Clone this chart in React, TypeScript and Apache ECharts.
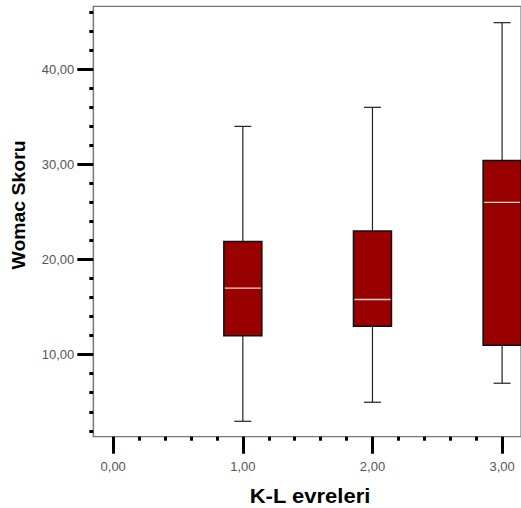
import React, { useEffect, useRef } from 'react';
import * as echarts from 'echarts';

// K-L stages and box statistics (Womac score)
const categories = [1, 2, 3];
const whiskerLow = [3, 5, 7];
const quartile1 = [12, 13, 11];
const medians = [17, 15.8, 26];
const quartile3 = [21.9, 23, 30.4];
const whiskerHigh = [34, 36, 44.9];

// Axis ticks
const xMajorTicks = [0, 1, 2, 3];
const xMinorTicks = [0.2, 0.4, 0.6, 0.8, 1.2, 1.4, 1.6, 1.8, 2.2, 2.4, 2.6, 2.8];
const yMajorTicks = [10, 20, 30, 40];
const yMinorTicks = [2, 4, 6, 8, 12, 14, 16, 18, 22, 24, 26, 28, 32, 34, 36, 38, 42, 44, 46];

const X_MIN = -0.1535;
const X_MAX = 3.1458;
const Y_MIN = 1.38;
const Y_MAX = 46.62;

const BOX_W = 38;
const CAP_W = 17;

const fmt = (v: number) => v.toFixed(2).replace('.', ',');

export default function App() {
  const ref = useRef<HTMLDivElement>(null);

  useEffect(() => {
    if (!ref.current) return;
    const chart = echarts.init(ref.current, null, { renderer: 'svg' });

    const rows = categories.map((c, i) => [
      c,
      whiskerLow[i],
      quartile1[i],
      medians[i],
      quartile3[i],
      whiskerHigh[i],
    ]);

    const labelStyle = {
      color: '#555',
      fontFamily: 'Arial, "Liberation Sans", sans-serif',
      fontSize: 13,
    };

    const grid = { left: 93.3, top: 6.3, right: -2, bottom: 71.3, show: true, borderColor: '#777', borderWidth: 1.2, backgroundColor: 'transparent' };

    chart.setOption({
      animation: false,
      backgroundColor: '#fff',
      grid,
      xAxis: [
        {
          type: 'value',
          position: 'bottom',
          min: X_MIN,
          max: X_MAX,
          splitLine: { show: false },
          axisLine: { show: true, onZero: false, lineStyle: { color: '#777', width: 1.2 } },
          axisTick: {
            show: true,
            customValues: xMajorTicks,
            length: 17,
            lineStyle: { color: '#000', width: 3 },
          },
          axisLabel: {
            show: true,
            customValues: xMajorTicks,
            formatter: fmt,
            margin: 23,
            ...labelStyle,
          },
        },
        {
          type: 'value',
          position: 'bottom',
          min: X_MIN,
          max: X_MAX,
          splitLine: { show: false },
          axisLine: { show: false, onZero: false },
          axisTick: {
            show: true,
            customValues: xMinorTicks,
            length: 4,
            lineStyle: { color: '#000', width: 3 },
          },
          axisLabel: { show: false },
        },
      ],
      yAxis: [
        {
          type: 'value',
          position: 'left',
          min: Y_MIN,
          max: Y_MAX,
          splitLine: { show: false },
          axisLine: { show: true, onZero: false, lineStyle: { color: '#777', width: 1.2 } },
          axisTick: {
            show: true,
            customValues: yMajorTicks,
            length: 16,
            lineStyle: { color: '#000', width: 3 },
          },
          axisLabel: {
            show: true,
            customValues: yMajorTicks,
            formatter: fmt,
            margin: 19,
            ...labelStyle,
          },
        },
        {
          type: 'value',
          position: 'left',
          min: Y_MIN,
          max: Y_MAX,
          splitLine: { show: false },
          axisLine: { show: false, onZero: false },
          axisTick: {
            show: true,
            customValues: yMinorTicks,
            length: 4,
            lineStyle: { color: '#000', width: 3 },
          },
          axisLabel: { show: false },
        },
      ],
      graphic: [
        {
          type: 'text',
          x: 310,
          y: 496,
          scaleX: 1.1,
          style: {
            text: 'K-L evreleri',
            fontFamily: 'Arial, "Liberation Sans", sans-serif',
            fontWeight: 'bold',
            fontSize: 20,
            fill: '#000',
            align: 'center',
            verticalAlign: 'middle',
          },
        },
        {
          type: 'text',
          x: 19,
          y: 205,
          rotation: Math.PI / 2,
          scaleX: 1.08,
          style: {
            text: 'Womac Skoru',
            fontFamily: 'Arial, "Liberation Sans", sans-serif',
            fontWeight: 'bold',
            fontSize: 18,
            fill: '#000',
            align: 'center',
            verticalAlign: 'middle',
          },
        },
      ],
      series: [
        {
          type: 'custom',
          xAxisIndex: 0,
          yAxisIndex: 0,
          data: rows,
          encode: { x: 0, y: [1, 2, 3, 4, 5] },
          clip: false,
          renderItem: (params: any, api: any) => {
            const x = api.value(0);
            const pMin = api.coord([x, api.value(1)]);
            const pQ1 = api.coord([x, api.value(2)]);
            const pMed = api.coord([x, api.value(3)]);
            const pQ3 = api.coord([x, api.value(4)]);
            const pMax = api.coord([x, api.value(5)]);
            const cx = pMin[0];
            const wStyle = { stroke: '#222', lineWidth: 1.2 };
            return {
              type: 'group',
              children: [
                { type: 'line', shape: { x1: cx, y1: pMax[1], x2: cx, y2: pQ3[1] }, style: wStyle },
                { type: 'line', shape: { x1: cx, y1: pQ1[1], x2: cx, y2: pMin[1] }, style: wStyle },
                { type: 'line', shape: { x1: cx - CAP_W / 2, y1: pMax[1], x2: cx + CAP_W / 2, y2: pMax[1] }, style: wStyle },
                { type: 'line', shape: { x1: cx - CAP_W / 2, y1: pMin[1], x2: cx + CAP_W / 2, y2: pMin[1] }, style: wStyle },
                {
                  type: 'rect',
                  shape: { x: cx - BOX_W / 2, y: pQ3[1], width: BOX_W, height: pQ1[1] - pQ3[1] },
                  style: { fill: '#990000', stroke: '#111', lineWidth: 1.5 },
                },
                {
                  type: 'line',
                  shape: { x1: cx - BOX_W / 2 + 1, y1: pMed[1], x2: cx + BOX_W / 2 - 1, y2: pMed[1] },
                  style: { stroke: '#f2d4d4', lineWidth: 1.3 },
                },
              ],
            };
          },
        },
      ],
    });

    return () => chart.dispose();
  }, []);

  return (
    <div
      ref={ref}
      style={{ position: 'fixed', left: 0, top: 0, width: 521, height: 508, background: '#fff' }}
    />
  );
}
